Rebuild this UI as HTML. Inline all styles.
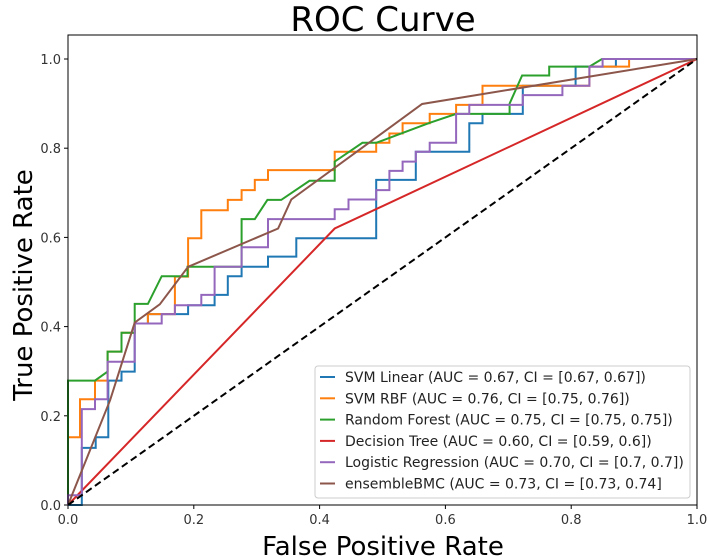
<!DOCTYPE html>
<html><head><meta charset="utf-8"><style>
html,body{margin:0;padding:0;background:#fff;}
svg{display:block;font-family:"DejaVu Sans","Liberation Sans",sans-serif;}
</style></head><body>
<svg id="chart" width="709" height="559" viewBox="0 0 709 559">
<text x="383" y="31" text-anchor="middle" font-size="34" fill="#000">ROC Curve</text>
<text x="383" y="555" text-anchor="middle" font-size="26" fill="#000">False Positive Rate</text>
<text transform="translate(32,285) rotate(-90)" text-anchor="middle" font-size="26" fill="#000">True Positive Rate</text>
<g id="ticks"></g>
<g id="series"></g>
<rect x="68" y="35" width="629" height="470" fill="none" stroke="#000" stroke-width="1"/>
<g id="legend"></g>
</svg>
<script>
const tickValues = [0, 0.2, 0.4, 0.6, 0.8, 1.0];
const tickLabels = ["0.0", "0.2", "0.4", "0.6", "0.8", "1.0"];
const seriesNames = ["SVM Linear (AUC = 0.67, CI = [0.67, 0.67])","SVM RBF (AUC = 0.76, CI = [0.75, 0.76])","Random Forest (AUC = 0.75, CI = [0.75, 0.75])","Decision Tree (AUC = 0.60, CI = [0.59, 0.6])","Logistic Regression (AUC = 0.70, CI = [0.7, 0.7])","ensembleBMC (AUC = 0.73, CI = [0.73, 0.74]"];
const seriesColors = ["#1f77b4","#ff7f0e","#2ca02c","#d62728","#9467bd","#8c564b"];
const svmLinearFpr = [0,0.022,0.022,0.044,0.044,0.064,0.064,0.085,0.085,0.106,0.106,0.127,0.127,0.191,0.191,0.233,0.233,0.254,0.254,0.276,0.276,0.318,0.318,0.363,0.363,0.49,0.49,0.553,0.553,0.638,0.638,0.659,0.659,0.723,0.723,0.807,0.807,0.871,0.871,1];
const svmLinearTpr = [0,0,0.128,0.128,0.152,0.152,0.279,0.279,0.299,0.299,0.407,0.407,0.428,0.428,0.448,0.448,0.471,0.471,0.513,0.513,0.534,0.534,0.557,0.557,0.598,0.598,0.729,0.729,0.792,0.792,0.856,0.856,0.877,0.877,0.94,0.94,0.983,0.983,1,1];
const svmRbfFpr = [0,0,0.019,0.019,0.043,0.043,0.063,0.063,0.085,0.085,0.106,0.106,0.127,0.127,0.17,0.17,0.191,0.191,0.212,0.212,0.254,0.254,0.276,0.276,0.297,0.297,0.318,0.318,0.424,0.424,0.49,0.49,0.511,0.511,0.532,0.532,0.575,0.575,0.617,0.617,0.659,0.659,0.829,0.829,0.892,0.892,1];
const svmRbfTpr = [0,0.152,0.152,0.237,0.237,0.279,0.279,0.344,0.344,0.386,0.386,0.407,0.407,0.428,0.428,0.512,0.512,0.598,0.598,0.661,0.661,0.684,0.684,0.706,0.706,0.729,0.729,0.751,0.751,0.792,0.792,0.812,0.812,0.833,0.833,0.856,0.856,0.877,0.877,0.897,0.897,0.94,0.94,0.983,0.983,1,1];
const rfFpr = [0,0,0.043,0.063,0.063,0.085,0.085,0.106,0.106,0.127,0.149,0.19,0.19,0.276,0.276,0.297,0.317,0.339,0.384,0.424,0.424,0.468,0.49,0.575,0.617,0.702,0.702,0.722,0.765,0.765,0.829,0.849,1];
const rfTpr = [0,0.279,0.279,0.299,0.344,0.344,0.386,0.386,0.451,0.451,0.513,0.513,0.534,0.534,0.641,0.641,0.684,0.684,0.727,0.727,0.77,0.812,0.812,0.857,0.877,0.877,0.9,0.963,0.963,0.983,0.983,1,1];
const dtFpr = [0,0.424,1];
const dtTpr = [0,0.62,1];
const lrFpr = [0,0,0.022,0.022,0.043,0.043,0.063,0.063,0.106,0.106,0.149,0.149,0.17,0.17,0.212,0.212,0.233,0.233,0.276,0.276,0.318,0.318,0.424,0.424,0.446,0.446,0.49,0.49,0.511,0.511,0.532,0.532,0.553,0.553,0.575,0.575,0.617,0.617,0.638,0.638,0.723,0.723,0.786,0.786,0.829,0.829,0.85,0.85,1];
const lrTpr = [0,0.022,0.022,0.215,0.215,0.237,0.237,0.321,0.321,0.407,0.407,0.428,0.428,0.448,0.448,0.471,0.471,0.534,0.534,0.578,0.578,0.641,0.641,0.663,0.663,0.685,0.685,0.706,0.706,0.749,0.749,0.77,0.77,0.792,0.792,0.812,0.812,0.877,0.877,0.897,0.897,0.919,0.919,0.94,0.94,0.983,0.983,1,1];
const bmcFpr = [0,0.067,0.106,0.146,0.191,0.334,0.355,0.563,1];
const bmcTpr = [0,0.235,0.409,0.45,0.534,0.62,0.685,0.899,1];
const chanceFpr = [0,1];
const chanceTpr = [0,1];

const NS = "http://www.w3.org/2000/svg";
const X0 = 68, X1 = 697, Y0 = 505, Y1 = 59;
const sx = v => X0 + v * (X1 - X0);
const sy = v => Y0 - v * (Y0 - Y1);

const ticks = document.getElementById('ticks');
tickValues.forEach((v, i) => {
  const xt = document.createElementNS(NS, 'line');
  xt.setAttribute('x1', sx(v)); xt.setAttribute('x2', sx(v));
  xt.setAttribute('y1', Y0); xt.setAttribute('y2', Y0 + 4);
  xt.setAttribute('stroke', '#000');
  
  
  ticks.appendChild(xt);
  const xl = document.createElementNS(NS, 'text');
  xl.setAttribute('x', sx(v)); xl.setAttribute('y', Y0 + 19);
  xl.setAttribute('text-anchor', 'middle'); xl.setAttribute('font-size', '13');
  xl.setAttribute('fill', '#333');
  xl.textContent = tickLabels[i];
  
  
  ticks.appendChild(xl);
  const yt = document.createElementNS(NS, 'line');
  yt.setAttribute('x1', X0 - 4); yt.setAttribute('x2', X0);
  yt.setAttribute('y1', sy(v)); yt.setAttribute('y2', sy(v));
  yt.setAttribute('stroke', '#000');
  
  
  ticks.appendChild(yt);
  const yl = document.createElementNS(NS, 'text');
  yl.setAttribute('x', X0 - 7); yl.setAttribute('y', sy(v) + 5);
  yl.setAttribute('text-anchor', 'end'); yl.setAttribute('font-size', '13');
  yl.setAttribute('fill', '#333');
  yl.textContent = tickLabels[i];
  
  
  ticks.appendChild(yl);
});

const seriesG = document.getElementById('series');
function drawLine(xs, ys, color, name, dash, width) {
  const p = document.createElementNS(NS, 'polyline');
  p.setAttribute('points', xs.map((x, i) => sx(x).toFixed(1) + ',' + sy(ys[i]).toFixed(1)).join(' '));
  p.setAttribute('fill', 'none');
  p.setAttribute('stroke', color);
  p.setAttribute('stroke-width', width);
  if (dash) p.setAttribute('stroke-dasharray', dash);
  
  
  seriesG.appendChild(p);
}
drawLine(svmLinearFpr, svmLinearTpr, seriesColors[0], 'svm-linear-curve', null, 2);
drawLine(svmRbfFpr, svmRbfTpr, seriesColors[1], 'svm-rbf-curve', null, 2);
drawLine(rfFpr, rfTpr, seriesColors[2], 'random-forest-curve', null, 2);
drawLine(dtFpr, dtTpr, seriesColors[3], 'decision-tree-curve', null, 2);
drawLine(lrFpr, lrTpr, seriesColors[4], 'logistic-regression-curve', null, 2);
drawLine(bmcFpr, bmcTpr, seriesColors[5], 'ensemblebmc-curve', null, 2);
drawLine(chanceFpr, chanceTpr, '#000', 'chance-diagonal', '7,4', 2);

const lg = document.getElementById('legend');
const box = document.createElementNS(NS, 'rect');
box.setAttribute('x', 315); box.setAttribute('y', 366);
box.setAttribute('width', 375); box.setAttribute('height', 132);
box.setAttribute('rx', 3);
box.setAttribute('fill', 'rgba(255,255,255,0.85)');
box.setAttribute('stroke', '#ccc');


lg.appendChild(box);
seriesNames.forEach((n, i) => {
  const y = 377 + i * 21.3;
  const l = document.createElementNS(NS, 'line');
  l.setAttribute('x1', 320); l.setAttribute('x2', 335);
  l.setAttribute('y1', y); l.setAttribute('y2', y);
  l.setAttribute('stroke', seriesColors[i]); l.setAttribute('stroke-width', 2);
  
  
  lg.appendChild(l);
  const t = document.createElementNS(NS, 'text');
  t.setAttribute('x', 345); t.setAttribute('y', y + 5);
  t.setAttribute('font-size', '14'); t.setAttribute('fill', '#222');
  t.textContent = n;
  
  
  lg.appendChild(t);
});
</script>
</body></html>
